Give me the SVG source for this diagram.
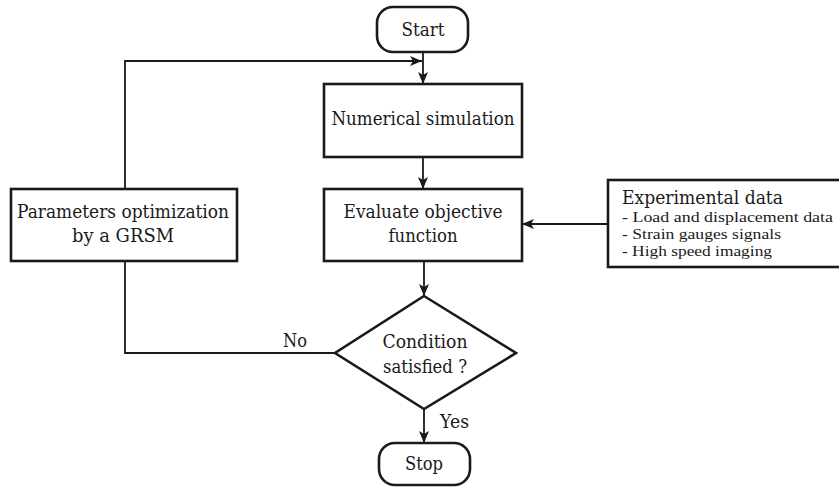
<svg xmlns="http://www.w3.org/2000/svg" width="839" height="488" viewBox="0 0 839 488">
<defs>
<style>
.box{fill:#fff;stroke:#1a1a1a;stroke-width:2.6}
.ln{fill:none;stroke:#1a1a1a;stroke-width:1.8}
text{fill:#1a1a1a}
.t{font-family:"DejaVu Serif",serif;font-size:19px;text-anchor:middle}
.l{font-family:"DejaVu Serif",serif;font-size:19px}
.s{font-family:"Liberation Serif","DejaVu Serif",serif;font-size:15px}
</style>
<marker id="arr" viewBox="0 0 12 10" refX="12" refY="5" markerWidth="12" markerHeight="10" markerUnits="userSpaceOnUse" orient="auto">
<path d="M0,0 L12,5 L0,10 L3,5 z" fill="#1a1a1a"/>
</marker>
</defs>
<rect width="839" height="488" fill="#fff"/>
<g id="connectors">
<path class="ln" d="M423,52 L423,84" marker-end="url(#arr)"/>
<path class="ln" d="M125,189 L125,61 L422,61" marker-end="url(#arr)"/>
<path class="ln" d="M423,157 L423,189" marker-end="url(#arr)"/>
<path class="ln" d="M424,261 L424,296" marker-end="url(#arr)"/>
<path class="ln" d="M424,409 L424,443" marker-end="url(#arr)"/>
<path class="ln" d="M608,224 L522,224" marker-end="url(#arr)"/>
<path class="ln" d="M125,261 L125,353 L335,353"/>
<text class="t" x="295" y="347" textLength="24" lengthAdjust="spacingAndGlyphs">No</text>
<text class="l" x="440" y="428" textLength="29" lengthAdjust="spacingAndGlyphs">Yes</text>
</g>
<g id="start">
<rect class="box" x="377" y="7" width="91" height="45" rx="16" ry="16"/>
<text class="t" x="423" y="36" textLength="43" lengthAdjust="spacingAndGlyphs">Start</text>
</g>
<g id="numerical">
<rect class="box" x="324" y="84" width="198" height="73"/>
<text class="t" x="423" y="125" textLength="183" lengthAdjust="spacingAndGlyphs">Numerical simulation</text>
</g>
<g id="evaluate">
<rect class="box" x="324" y="189" width="198" height="72"/>
<text class="t" x="423" y="218" textLength="159" lengthAdjust="spacingAndGlyphs">Evaluate objective</text>
<text class="t" x="423" y="242" textLength="69" lengthAdjust="spacingAndGlyphs">function</text>
</g>
<g id="params">
<rect class="box" x="11" y="189" width="226" height="72"/>
<text class="t" x="123" y="218" textLength="212" lengthAdjust="spacingAndGlyphs">Parameters optimization</text>
<text class="t" x="123" y="242" textLength="102" lengthAdjust="spacingAndGlyphs">by a GRSM</text>
</g>
<g id="experimental">
<rect class="box" x="608" y="180" width="236" height="87"/>
<text class="l" x="622" y="204" textLength="161" lengthAdjust="spacingAndGlyphs">Experimental data</text>
<text class="s" x="622" y="222" textLength="211" lengthAdjust="spacingAndGlyphs">- Load and displacement data</text>
<text class="s" x="622" y="239" textLength="159" lengthAdjust="spacingAndGlyphs">- Strain gauges signals</text>
<text class="s" x="622" y="256" textLength="150" lengthAdjust="spacingAndGlyphs">- High speed imaging</text>
</g>
<g id="condition">
<polygon class="box" points="424,296 516,353 424,409 335,353" stroke-width="3"/>
<text class="t" x="425" y="348" textLength="85" lengthAdjust="spacingAndGlyphs">Condition</text>
<text class="t" x="425" y="373" textLength="84" lengthAdjust="spacingAndGlyphs">satisfied ?</text>
</g>
<g id="stop">
<rect class="box" x="379" y="443" width="91" height="42" rx="16" ry="16"/>
<text class="t" x="424" y="470" textLength="38" lengthAdjust="spacingAndGlyphs">Stop</text>
</g>
</svg>
